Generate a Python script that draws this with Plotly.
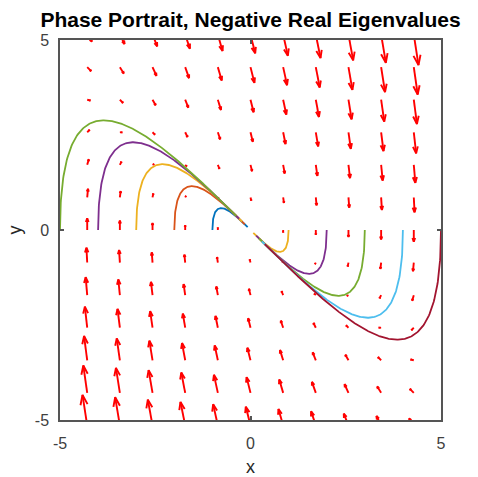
import numpy as np
import plotly.graph_objects as go
import plotly.figure_factory as ff

# ---- data ----
# linear system  d/dt [x, y] = A [x, y]  (eigenvalues -1 and -3)
A = [[0.0, 1.0],
     [-3.0, -4.0]]
# starting points of trajectories (all on y = 0)
x0_left = [-1, -2, -3, -4, -5]
x0_right = [1, 2, 3, 4, 5]
colors_left = ['#0072BD', '#D95319', '#EDB120', '#7E2F8E', '#77AC30']
colors_right = ['#EDB120', '#7E2F8E', '#77AC30', '#4DBEEE', '#A2142F']
t_end = 3.0
# quiver grid (same in x and y)
grid = [-6.0, -5.1429, -4.2857, -3.4286, -2.5714, -1.7143, -0.8571, 0.0,
        0.8571, 1.7143, 2.5714, 3.4286, 4.2857, 5.1429, 6.0]
tick_vals = [-5, 0, 5]
tick_text = ['-5', '0', '5']
axis_range = [-5, 5]
title_text = "Phase Portrait, Negative Real Eigenvalues"

# ---- build ----
Am = np.array(A)
evals, evecs = np.linalg.eig(Am)
t = np.linspace(0, t_end, 400)


def trajectory(x0):
    c = np.linalg.solve(evecs, np.array([x0, 0.0]))
    pts = evecs @ (c[:, None] * np.exp(evals[:, None] * t[None, :]))
    return np.real(pts[0]), np.real(pts[1])


gx = np.array(grid)
X, Y = np.meshgrid(gx, gx)
U = Am[0, 0] * X + Am[0, 1] * Y
V = Am[1, 0] * X + Am[1, 1] * Y
n = len(grid)
delx = (gx.max() - gx.min()) / n
dl = 2 * delx ** 2
lens = np.sqrt((U ** 2 + V ** 2) / dl)
scale = 0.9 / lens.max()

q = ff.create_quiver(X.ravel(), Y.ravel(), U.ravel(), V.ravel(),
                     scale=scale, arrow_scale=0.34, angle=np.arctan(0.36),
                     line=dict(color='#FF0000', width=1.9))

fig = go.Figure()
for tr in q.data:
    tr.hoverinfo = 'skip'
    tr.showlegend = False
    fig.add_trace(tr)

for x0, col in zip(x0_left, colors_left):
    xs, ys = trajectory(x0)
    fig.add_trace(go.Scatter(x=xs, y=ys, mode='lines',
                             line=dict(color=col, width=1.8), showlegend=False))
for x0, col in zip(x0_right, colors_right):
    xs, ys = trajectory(x0)
    fig.add_trace(go.Scatter(x=xs, y=ys, mode='lines',
                             line=dict(color=col, width=1.8), showlegend=False))

font_family = 'Liberation Sans, Arial'
axis_common = dict(range=axis_range, tickvals=tick_vals, ticktext=tick_text,
                   showgrid=False, automargin=False,
                   zeroline=False, showline=True, mirror='ticks',
                   linecolor='#555555', linewidth=1.5, ticks='inside',
                   ticklen=4, tickcolor='#555555', tickwidth=1.5,
                   tickfont=dict(family=font_family, size=16, color='#404040'))

fig.update_layout(
    width=478, height=477, autosize=False,
    margin=dict(l=60, r=37, t=40, b=57),
    paper_bgcolor='white', plot_bgcolor='white',
    title=dict(text=title_text, x=0.5, xref='paper', xanchor='center',
               y=1 - 20 / 477, yref='container', yanchor='middle',
               font=dict(family=font_family, size=21,
                         color='#000000', weight='bold')),
    xaxis=dict(**axis_common, ticklabelstandoff=8,
               title=dict(text='x', standoff=11,
                          font=dict(family=font_family, size=18, color='#262626'))),
    yaxis=dict(**axis_common, ticklabelstandoff=6,
               title=dict(text='y', standoff=9,
                          font=dict(family=font_family, size=18, color='#262626'))),
)

fig.write_html("out.html")
